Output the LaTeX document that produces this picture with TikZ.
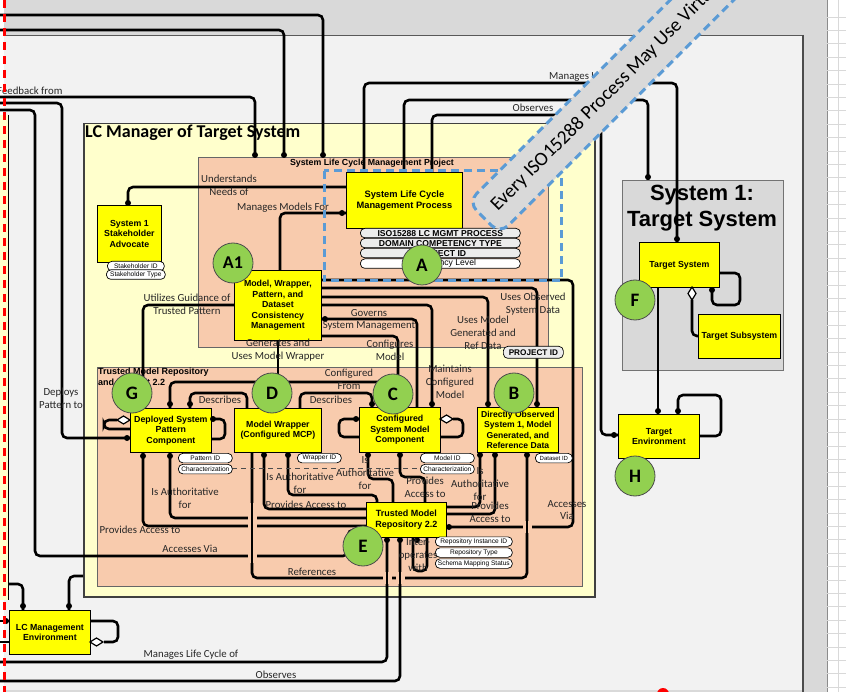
\documentclass[tikz,border=0pt]{standalone}
\usepackage{fontspec}
\setmainfont{Carlito}
\newfontfamily\arf{Liberation Sans}
\usetikzlibrary{positioning}
\definecolor{ybox}{HTML}{FFFF00}
\definecolor{pale}{HTML}{FFFFCC}
\definecolor{peach}{HTML}{F8CBAD}
\definecolor{framefill}{HTML}{F2F2F2}
\definecolor{band}{HTML}{D9D9D9}
\definecolor{leaf}{HTML}{92D050}
\definecolor{scopeblue}{HTML}{5B9BD5}
\definecolor{ink}{HTML}{262626}
\tikzset{
  conn/.style={line width=2.6pt, rounded corners=5pt, black},
  hop/.style={draw=peach, line width=9pt},
  ybx/.style={draw, fill=ybox, line width=0.8pt, anchor=north west, align=center,
    inner sep=1pt, font=\arf\bfseries\fontsize{8.8}{10.6}\selectfont},
  pill/.style={draw, fill=white, rounded corners=4.5pt, line width=0.7pt, anchor=north west,
    inner sep=0pt, minimum height=9.5pt, font=\arf\fontsize{6.6}{7}\selectfont},
  gpill/.style={pill, fill=band!50, font=\arf\bfseries\fontsize{8.6}{8}\selectfont},
  lab/.style={font=\fontsize{10.8}{12.8}\selectfont, text=ink, align=center, inner sep=0pt},
  badge/.style={circle, draw=black!70, line width=0.8pt, fill=leaf, minimum size=40pt,
    inner sep=0pt, font=\bfseries\fontsize{19}{19}\selectfont},
  holder/.style={anchor=north west, inner sep=0pt},
}
\newcommand{\pin}[2]{\fill (#1,#2) circle[radius=3pt];}
\newcommand{\rhomb}[2]{\filldraw[fill=white, draw=black, line width=1.2pt]
  (#1,#2) -- ++(6.5,-4) -- ++(6.5,4) -- ++(-6.5,4) -- cycle;}
\begin{document}
\begin{tikzpicture}[x=1pt,y=-1pt]
\useasboundingbox (0,0) rectangle (846,692);
\clip (0,0) rectangle (846,692);
% page background, outer frame and side strip
\fill[band] (0,0) rectangle (846,692);
\fill[framefill] (0,35) rectangle (803,690);
\draw[black!65, line width=0.8pt] (0,35) -- (803,35);
\draw[black!70, line width=2.5pt] (803,35) -- (803,692);
\fill[white] (827,0) rectangle (846,692);
\draw[black!45, line width=0.8pt] (827,0) -- (827,692);
\foreach \k in {0,...,51} {\draw[black!15, line width=0.6pt] (827,17+13.4*\k) -- (846,17+13.4*\k);}
\draw[black!15, line width=0.6pt] (838,0) -- (838,692);
\fill[white] (0,0) rectangle (4,692);
\fill[pale] (0,115) rectangle (8,600);
\draw[black, line width=0.8pt] (8,115) -- (8,600);

% containers
\node[holder, draw=black!75, line width=1.5pt, fill=pale, minimum width=511pt, minimum height=473pt] (lcm) at (83,123) {};
\node[anchor=north west, inner sep=0pt, font=\bfseries\fontsize{18}{20}\selectfont] (lcmt) at (85,125) {LC Manager of Target System};
\node[holder, draw=black!60, line width=0.8pt, fill=peach, minimum width=350pt, minimum height=190pt] (proj) at (198,157) {};
\node[font=\arf\bfseries\fontsize{8.8}{9}\selectfont, inner sep=0pt] (projt) at (372,163) {System Life Cycle Management Project};
\node[holder, draw=black!60, line width=0.8pt, fill=peach, minimum width=485pt, minimum height=219pt] (repo) at (97,367) {};
\node[anchor=north west, inner sep=0pt, align=left, font=\arf\bfseries\fontsize{9}{11}\selectfont] (repot) at (98,368) {Trusted Model Repository\\ and Context 2.2};
\node[holder, draw=black!55, line width=1pt, fill=band, minimum width=161pt, minimum height=190pt] (sys) at (622,180) {};
\node[font=\arf\bfseries\fontsize{22}{26}\selectfont, align=center, inner sep=0pt] (syst) at (702,208) {System 1:\\Target System};

% connectors entering from the left edge
\draw[conn] (0,15) -- (323,15) -- (proj.north -| 323,0);
\draw[conn] (0,30) -- (284,30) -- (proj.north -| 284,0);
\draw[conn] (0,97) -- (255,97) -- (proj.north -| 255,0);
\draw[conn] (0,103) -- (62,103) -- (62,438) -- (130,438);
\draw[conn] (0,110) -- (35,110) -- (35,556) -- (348,556) -- (348,530) -- (366,530);
% life cycle process links
\draw[conn] (346,187) -- (128,187) -- (128,205);
\draw[conn] (280,270) -- (280,213) -- (346,213);
\draw[conn] (364,172) -- (364,83) -- (677,83) -- (677,242);
\draw[conn] (404,172) -- (404,100) -- (648,100) -- (648,180);
\draw[conn] (432,172) -- (432,115) -- (601,115) -- (601,435) -- (618,435);
% consistency management links
\draw[conn] (321,280) -- (573,280) -- (573,527) -- (446,527);
\draw[conn] (321,288) -- (537,288) -- (537,407);
\draw[conn] (321,297) -- (488,297) -- (488,407);
\draw[conn] (321,305) -- (432,305) -- (432,407);
\draw[conn] (321,319) -- (417,319) -- (417,407);
\draw[conn] (321,336) -- (398,336) -- (398,407);
\draw[conn] (278,340) -- (278,408);
\draw[conn] (234,305) -- (143,305) -- (143,408);
% component links
\draw[conn] (170,408) -- (170,382) -- (385,382) -- (385,407);
\draw[conn] (190,408) -- (190,393) -- (247,393) -- (247,408);
\draw[conn] (300,408) -- (300,393) -- (372,393) -- (372,407);
\draw[conn] (211,419) -- (225,419) -- (225,439) -- (211,439);
\draw[conn] (117,420) -- (104,420) -- (104,429) -- (130,429);
\draw[conn] (359,419) -- (339,419) -- (339,437) -- (359,437);
\draw[conn] (453,419) -- (463,419) -- (463,437) -- (440,437);
% repository links
\draw[conn] (143,452) -- (143,526) -- (366,526);
\draw[conn] (170,452) -- (170,518) -- (366,518);
\draw[conn] (264,452) -- (264,509) -- (366,509);
\draw[conn] (288,452) -- (288,495) -- (377,495) -- (377,502);
\draw[conn] (252,452) -- (252,578) -- (527,578) -- (527,452);
\draw[conn] (368,452) -- (368,479) -- (393,479) -- (393,502);
\draw[conn] (400,452) -- (400,477) -- (425,477) -- (425,502);
\draw[conn] (480,452) -- (480,507) -- (446,507);
\draw[conn] (495,452) -- (495,514) -- (446,514);
\draw[conn] (413,537) -- (413,571) -- (427,571) -- (427,537);
\draw[conn] (387,537) -- (387,662) -- (0,662);
\draw[conn] (400,537) -- (400,681) -- (0,681);
% line jumps where the vertical runs cross horizontal ones
\draw[hop] (252,503) -- (252,563);
\draw[conn] (252,470) -- (252,570);
\draw[hop] (387,572) -- (387,584);
\draw[hop] (400,572) -- (400,584);
\draw[conn] (387,560) -- (387,590);
\draw[conn] (400,560) -- (400,590);
\draw[hop] (527,521) -- (527,533);
\draw[conn] (527,500) -- (527,560);
% environment links
\draw[conn] (23,610) -- (23,584) -- (8,584);
\draw[conn] (69,610) -- (69,576) -- (83,576);
\draw[conn] (90,621) -- (118,621) -- (118,642) -- (104,642);
\draw[conn] (0,621) -- (9,621);
\draw[conn] (0,642) -- (9,642);
% target system links
\draw[conn] (658,287) -- (658,414);
\draw[conn] (719,273) -- (740,273) -- (740,305) -- (712,305) -- (712,287);
\draw[conn] (692,300) -- (692,336) -- (698,336);
\draw[conn] (678,414) -- (678,395) -- (721,395) -- (721,436) -- (699,436);
% dashed trace between characterizations
\draw[black!70, line width=0.8pt, dash pattern=on 5pt off 4pt] (232,468) -- (420,468);

% boxes
\node[ybx, minimum width=64pt, minimum height=57pt] (stake) at (97,205) {System 1\\Stakeholder\\Advocate};
\node[ybx, minimum width=116pt, minimum height=56pt, font=\arf\bfseries\fontsize{9.3}{11.5}\selectfont] (proc) at (346,172) {System Life Cycle\\Management Process};
\node[ybx, minimum width=87pt, minimum height=70pt] (cons) at (234,270) {Model, Wrapper,\\Pattern, and\\Dataset\\Consistency\\Management};
\node[ybx, minimum width=81pt, minimum height=44pt] (dep) at (130,408) {Deployed System\\Pattern\\Component};
\node[ybx, minimum width=87pt, minimum height=44pt] (wrap) at (234,408) {Model Wrapper\\(Configured MCP)};
\node[ybx, minimum width=81pt, minimum height=45pt] (csm) at (359,407) {Configured\\System Model\\Component};
\node[ybx, minimum width=81pt, minimum height=45pt, font=\arf\bfseries\fontsize{8.6}{10.2}\selectfont] (obs) at (477,407) {Directly Observed\\System 1, Model\\Generated, and\\Reference Data};
\node[ybx, minimum width=80pt, minimum height=35pt, font=\arf\bfseries\fontsize{9}{11}\selectfont] (tmr) at (366,502) {Trusted Model\\Repository 2.2};
\node[ybx, minimum width=80pt, minimum height=45pt] (tsys) at (639,242) {Target System};
\node[ybx, minimum width=82pt, minimum height=44pt] (tsub) at (698,314) {Target Subsystem};
\node[ybx, minimum width=81pt, minimum height=44pt] (tenv) at (618,414) {Target\\Environment};
\node[ybx, minimum width=81pt, minimum height=44pt] (lce) at (9,610) {LC Management\\Environment};

% aggregation diamonds
\rhomb{117}{420}
\rhomb{440}{419}
\rhomb{90}{642}
\filldraw[fill=white, draw=black, line width=1.2pt] (692,287) -- (688,293.5) -- (692,300) -- (696,293.5) -- cycle;

% connector end points
\pin{255}{155}\pin{284}{155}\pin{323}{155}
\pin{128}{203}\pin{342}{213}\pin{677}{239}\pin{648}{177}\pin{614}{435}
\pin{325}{319}\pin{537}{404}\pin{488}{404}\pin{432}{404}
\pin{127}{438}\pin{170}{404}\pin{190}{404}\pin{372}{404}\pin{213}{419}\pin{356}{419}
\pin{143}{456}\pin{170}{456}\pin{264}{455}\pin{288}{455}
\pin{368}{455}\pin{400}{455}
\pin{480}{455}\pin{495}{455}\pin{527}{455}
\pin{449}{527}\pin{387}{540}\pin{400}{540}\pin{417}{540}
\pin{23}{606}\pin{69}{606}\pin{6}{621}
\pin{658}{411}\pin{678}{411}\pin{712}{290}

% attribute pills
\node[pill, minimum width=57pt] (sid) at (107,261) {Stakeholder ID};
\node[pill, minimum width=59pt] (stp) at (106,269.5) {Stakeholder Type};
\node[gpill, minimum width=160pt] (p1) at (360,228) {ISO15288 LC MGMT PROCESS};
\node[gpill, minimum width=160pt] (p2) at (360,238) {DOMAIN COMPETENCY TYPE};
\node[gpill, minimum width=160pt] (p3) at (360,248) {PROJECT ID};
\node[pill, minimum width=160pt, font=\arf\fontsize{8.6}{8}\selectfont] (p4) at (360,258.5) {Competency Level};
\node[gpill, minimum width=60pt, minimum height=12pt, font=\arf\bfseries\fontsize{8.2}{8}\selectfont] (pid) at (503,346) {PROJECT ID};
\node[pill, minimum width=54pt] (patid) at (178,453) {Pattern ID};
\node[pill, minimum width=54pt] (patch) at (178,464) {Characterization};
\node[pill, minimum width=44pt] (wid) at (297,453) {Wrapper ID};
\node[pill, minimum width=54pt] (mid) at (420,453) {Model ID};
\node[pill, minimum width=54pt] (mch) at (420,464) {Characterization};
\node[pill, minimum width=37pt, font=\arf\fontsize{6}{7}\selectfont] (did) at (535,453) {Dataset ID};
\node[pill, minimum width=77pt] (rid) at (435,536.5) {Repository Instance ID};
\node[pill, minimum width=77pt] (rty) at (435,547.5) {Repository Type};
\node[pill, minimum width=77pt] (rsm) at (435,558.5) {Schema Mapping Status};

% scope of the life cycle process
\draw[scopeblue, line width=3pt, dash pattern=on 8pt off 5pt] (324,171) rectangle (561,281);

% connector labels
\node[lab, anchor=west] (l1) at (-3,91) {Feedback from};
\node[lab] (l2) at (229,185) {Understands\\Needs of};
\node[lab] (l3) at (283,208) {Manages Models For};
\node[lab, anchor=west] (l4) at (549,77) {Manages Life Cycle of};
\node[lab] (l5) at (533,108) {Observes};
\node[lab] (l6) at (187,304) {Utilizes Guidance of\\Trusted Pattern};
\node[lab] (l7) at (278,350) {Generates and\\Uses Model Wrapper};
\node[lab] (l8) at (369,320) {Governs\\System Management};
\node[lab] (l9) at (390,350) {Configures\\Model};
\node[lab] (l10) at (349,379) {Configured\\From};
\node[lab] (l11) at (450,382) {Maintains\\Configured\\Model};
\node[lab] (l12) at (483,333) {Uses Model\\Generated and\\Ref Data};
\node[lab] (l13) at (533,304) {Uses Observed\\System Data};
\node[lab] (l14) at (220,400) {Describes};
\node[lab] (l15) at (331,400) {Describes};
\node[lab] (l16) at (61,398) {Deploys\\Pattern to};
\node[lab] (l17) at (185,498) {Is Authoritative\\for};
\node[lab] (l18) at (140,530) {Provides Access to};
\node[lab] (l19) at (190,549) {Accesses Via};
\node[lab] (l20) at (300,483) {Is Authoritative\\for};
\node[lab] (l21) at (306,505) {Provides Access to};
\node[lab] (l22) at (365,473) {Is\\Authoritative\\for};
\node[lab] (l23) at (425,487) {Provides\\Access to};
\node[lab] (l24) at (480,484) {Is\\Authoritative\\for};
\node[lab] (l25) at (490,512) {Provides\\Access to};
\node[lab] (l26) at (567,510) {Accesses\\Via};
\node[lab] (l27) at (312,572) {References};
\node[lab] (l28) at (418,555) {Inter-\\operates\\with};
\node[lab] (l29) at (191,655) {Manages Life Cycle of};
\node[lab] (l30) at (276,675) {Observes};

% reference badges
\node[badge, font=\bfseries\fontsize{18}{18}\selectfont] (bA1) at (233,263) {A1};
\node[badge] (bA) at (422,265) {A};
\node[badge] (bB) at (514,393) {B};
\node[badge] (bC) at (393,394) {C};
\node[badge] (bD) at (272,393) {D};
\node[badge] (bE) at (363,546) {E};
\node[badge] (bF) at (635,300) {F};
\node[badge] (bG) at (132,393) {G};
\node[badge] (bH) at (635,476) {H};

% note banner across the process scope
\node[rotate=45, fill=band, draw=scopeblue, line width=3pt, dash pattern=on 8pt off 5pt,
  rounded corners=12pt, minimum width=430pt, minimum height=45pt] (banner) at (636,66) {};
\node[rotate=45, anchor=west, inner sep=0pt, font=\fontsize{19.5}{19.5}\selectfont] (bannert) at (494,208) {Every ISO15288 Process May Use Virtual};

% page edge markers
\draw[red, line width=3pt, dash pattern=on 8pt off 6pt] (4,0) -- (4,692);
\fill[red] (663,694) circle[radius=6pt];
\end{tikzpicture}
\end{document}
